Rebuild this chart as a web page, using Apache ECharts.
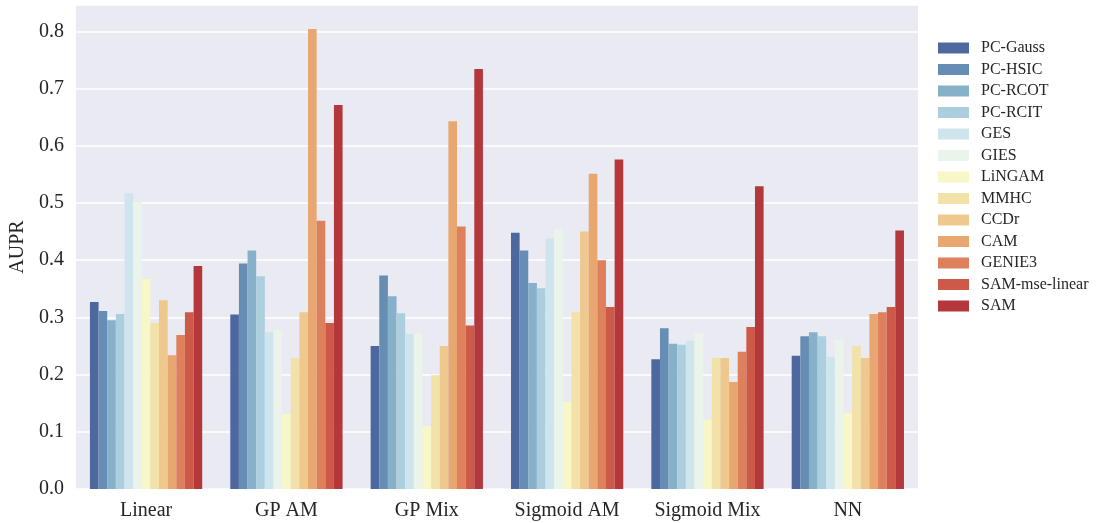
<!DOCTYPE html>
<html>
<head>
<meta charset="utf-8">
<script src="https://cdn.jsdelivr.net/npm/echarts@6/dist/echarts.min.js"></script>
<style>html,body{margin:0;padding:0;background:#fff}#c{width:1097px;height:523px}</style>
</head>
<body>
<div id="c"></div>
<script>
const categories = ["Linear", "GP AM", "GP Mix", "Sigmoid AM", "Sigmoid Mix", "NN"];
const methods = ["PC-Gauss", "PC-HSIC", "PC-RCOT", "PC-RCIT", "GES", "GIES", "LiNGAM", "MMHC", "CCDr", "CAM", "GENIE3", "SAM-mse-linear", "SAM"];
const yTicks = [0.0, 0.1, 0.2, 0.3, 0.4, 0.5, 0.6, 0.7, 0.8];

const pcGauss      = [0.327, 0.305, 0.250, 0.448, 0.227, 0.233];
const pcHsic       = [0.311, 0.394, 0.373, 0.417, 0.281, 0.267];
const pcRcot       = [0.295, 0.417, 0.337, 0.360, 0.254, 0.274];
const pcRcit       = [0.306, 0.372, 0.307, 0.351, 0.252, 0.267];
const ges          = [0.517, 0.274, 0.271, 0.438, 0.259, 0.231];
const gies         = [0.502, 0.278, 0.272, 0.455, 0.273, 0.261];
const lingam       = [0.367, 0.131, 0.110, 0.152, 0.121, 0.133];
const mmhc         = [0.290, 0.229, 0.199, 0.309, 0.229, 0.250];
const ccdr         = [0.330, 0.309, 0.250, 0.450, 0.229, 0.229];
const cam          = [0.234, 0.804, 0.643, 0.551, 0.187, 0.306];
const genie3       = [0.269, 0.469, 0.459, 0.400, 0.240, 0.309];
const samMseLinear = [0.309, 0.290, 0.286, 0.318, 0.283, 0.318];
const sam          = [0.390, 0.671, 0.734, 0.576, 0.529, 0.452];

const seriesValues = [pcGauss, pcHsic, pcRcot, pcRcit, ges, gies, lingam, mmhc, ccdr, cam, genie3, samMseLinear, sam];
const colors = ["#4D689E", "#668DB3", "#87B0C9", "#ABCFDE", "#CEE5ED", "#EAF4EA", "#F7F7C7", "#F2E2A9", "#EEC88C", "#E8A771", "#DF805D", "#CD5A49", "#B4373B"];

const FONT = "Liberation Serif";
const chart = echarts.init(document.getElementById('c'), null, {renderer: 'canvas'});
chart.setOption({
  animation: false,
  backgroundColor: '#ffffff',
  color: colors,
  textStyle: {fontFamily: FONT},
  grid: {left: 74, top: 5, width: 844, height: 484, show: true, backgroundColor: '#EAEAF2', borderWidth: 0, containLabel: false},
  legend: {
    orient: 'vertical', left: 933, top: 35,
    itemWidth: 31, itemHeight: 11, itemGap: 5.5,
    icon: 'rect',
    data: methods,
    textStyle: {fontFamily: FONT, fontSize: 16, color: '#262626', lineHeight: 16, padding: [0, 0, 0, 7]}
  },
  xAxis: {
    type: 'category', data: categories,
    axisLine: {show: false}, axisTick: {show: false}, splitLine: {show: false},
    axisLabel: {fontFamily: FONT, fontSize: 20, color: '#262626', margin: 12}
  },
  yAxis: {
    type: 'value', min: 0, max: 0.846, interval: 0.1,
    name: 'AUPR', nameLocation: 'middle', nameGap: 45, nameRotate: 90,
    nameTextStyle: {fontFamily: FONT, fontSize: 20, color: '#262626'},
    axisLine: {show: false}, axisTick: {show: false},
    splitLine: {show: true, lineStyle: {color: '#ffffff', width: 1.6}},
    axisLabel: {fontFamily: FONT, fontSize: 20, color: '#262626', margin: 12, showMaxLabel: false,
      formatter: v => yTicks.some(t => Math.abs(t - v) < 1e-9) ? v.toFixed(1) : ''}
  },
  series: methods.map((m, i) => ({
    name: m, type: 'bar', data: seriesValues[i],
    barGap: '0%', barCategoryGap: '20%',
    itemStyle: {color: colors[i]}
  }))
});
</script>
</body>
</html>
